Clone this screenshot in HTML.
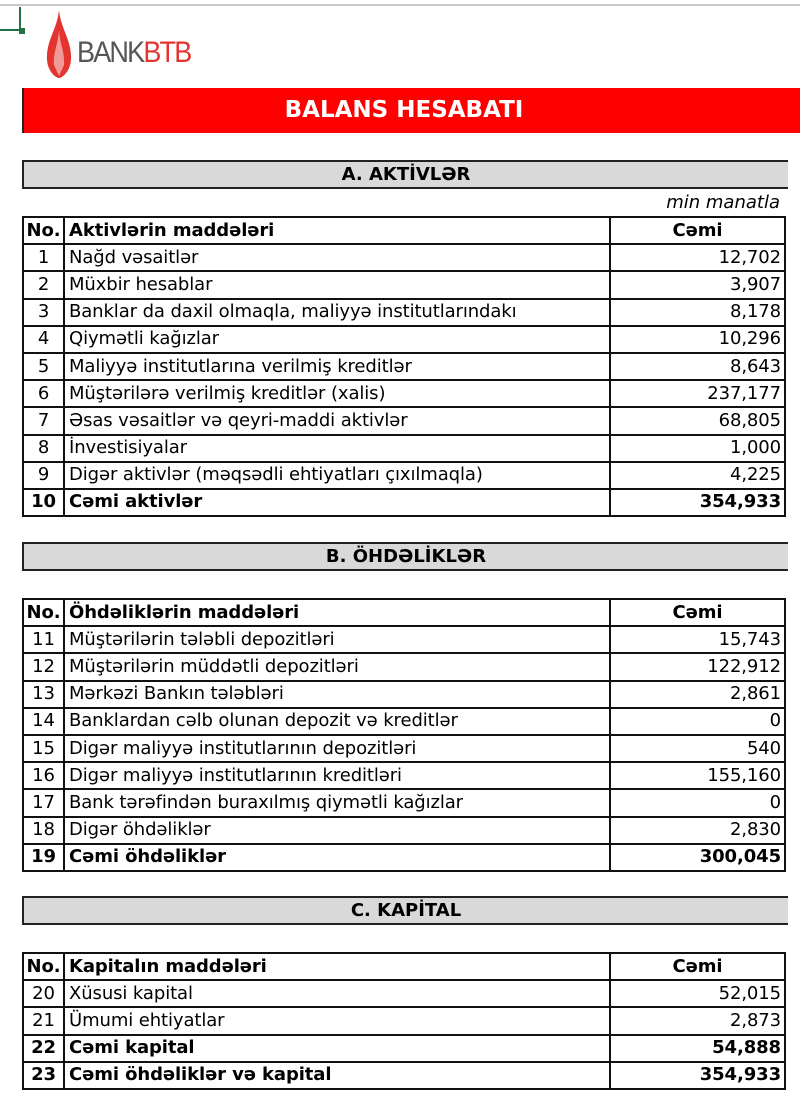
<!DOCTYPE html>
<html><head><meta charset="utf-8">
<style>
body{margin:0;width:800px;height:1106px;background:#fff;position:relative;overflow:hidden;font-family:"DejaVu Sans","Liberation Sans",sans-serif;}
.abs{position:absolute}
table{position:absolute;left:22px;width:764px;border-collapse:collapse;font-size:18px;letter-spacing:-0.1px;table-layout:fixed}
tr{height:27.2px}
td{border:2px solid #111;padding:0 4px;line-height:24px;white-space:nowrap;overflow:hidden}
td.n{text-align:center;padding:0}
td.v{text-align:right;padding-right:3px}
tr.b td{font-weight:bold}
.gray{position:absolute;left:22px;width:764px;height:25px;background:#d9d9d9;border-top:2px solid #222;border-bottom:2px solid #222;border-left:2px solid #222;text-align:center;font-weight:bold;font-size:18px;line-height:25px}
</style></head><body>
<div class="abs" style="left:0;top:4px;width:800px;height:2px;background:#c8c8c8"></div>
<div class="abs" style="left:0;top:7px;width:21px;height:24px;border-right:2px solid #217346;border-bottom:2px solid #217346;box-sizing:border-box"></div>
<div class="abs" style="left:19px;top:28px;width:6px;height:6px;background:#217346"></div>
<svg class="abs" style="left:44px;top:10px" width="30" height="68" viewBox="0 0 30 68">
<path d="M15 0 C13 20 2 30 3 50 C4 62 12 68 15 68 C18 68 26 62 27 50 C28 30 17 20 15 0Z" fill="#e3342f"/>
<path d="M15 20 C14 35 9 42 10 55 L15 66 L20 55 C21 42 16 35 15 20Z" fill="#fff" opacity=".5"/>
</svg>
<div class="abs" style="left:77px;top:36px;font-family:'Liberation Sans',sans-serif;font-size:30px;letter-spacing:-2px;color:#555;transform:scaleX(0.9);transform-origin:left">BANK<span style="color:#e3342f">BTB</span></div>
<div class="abs" style="left:22px;top:88px;width:778px;height:45px;background:#ff0000;border-left:2px solid #222;color:#fff;font-weight:bold;font-size:23px;line-height:45px;text-align:center;box-sizing:border-box;padding-right:16px">BALANS HESABATI</div>

<div class="gray" style="top:160px">A. AKTİVLƏR</div>
<div class="abs" style="right:20px;top:192px;font-style:italic;font-size:18px">min manatla</div>
<table style="top:216px">
<colgroup><col style="width:41px"><col style="width:546px"><col></colgroup>
<tr class="b"><td class="n">No.</td><td>Aktivlərin maddələri</td><td style="text-align:center">Cəmi</td></tr>
<tr><td class="n">1</td><td>Nağd vəsaitlər</td><td class="v">12,702</td></tr>
<tr><td class="n">2</td><td>Müxbir hesablar</td><td class="v">3,907</td></tr>
<tr><td class="n">3</td><td>Banklar da daxil olmaqla, maliyyə institutlarındakı</td><td class="v">8,178</td></tr>
<tr><td class="n">4</td><td>Qiymətli kağızlar</td><td class="v">10,296</td></tr>
<tr><td class="n">5</td><td>Maliyyə institutlarına verilmiş kreditlər</td><td class="v">8,643</td></tr>
<tr><td class="n">6</td><td>Müştərilərə verilmiş kreditlər (xalis)</td><td class="v">237,177</td></tr>
<tr><td class="n">7</td><td>Əsas vəsaitlər və qeyri-maddi aktivlər</td><td class="v">68,805</td></tr>
<tr><td class="n">8</td><td>İnvestisiyalar</td><td class="v">1,000</td></tr>
<tr><td class="n">9</td><td>Digər aktivlər (məqsədli ehtiyatları çıxılmaqla)</td><td class="v">4,225</td></tr>
<tr class="b"><td class="n">10</td><td>Cəmi aktivlər</td><td class="v">354,933</td></tr>
</table>

<div class="gray" style="top:542px">B. ÖHDƏLİKLƏR</div>
<table style="top:598px">
<colgroup><col style="width:41px"><col style="width:546px"><col></colgroup>
<tr class="b"><td class="n">No.</td><td>Öhdəliklərin maddələri</td><td style="text-align:center">Cəmi</td></tr>
<tr><td class="n">11</td><td>Müştərilərin tələbli depozitləri</td><td class="v">15,743</td></tr>
<tr><td class="n">12</td><td>Müştərilərin müddətli depozitləri</td><td class="v">122,912</td></tr>
<tr><td class="n">13</td><td>Mərkəzi Bankın tələbləri</td><td class="v">2,861</td></tr>
<tr><td class="n">14</td><td>Banklardan cəlb olunan depozit və kreditlər</td><td class="v">0</td></tr>
<tr><td class="n">15</td><td>Digər maliyyə institutlarının depozitləri</td><td class="v">540</td></tr>
<tr><td class="n">16</td><td>Digər maliyyə institutlarının kreditləri</td><td class="v">155,160</td></tr>
<tr><td class="n">17</td><td>Bank tərəfindən buraxılmış qiymətli kağızlar</td><td class="v">0</td></tr>
<tr><td class="n">18</td><td>Digər öhdəliklər</td><td class="v">2,830</td></tr>
<tr class="b"><td class="n">19</td><td>Cəmi öhdəliklər</td><td class="v">300,045</td></tr>
</table>

<div class="gray" style="top:896px">C. KAPİTAL</div>
<table style="top:952px">
<colgroup><col style="width:41px"><col style="width:546px"><col></colgroup>
<tr class="b"><td class="n">No.</td><td>Kapitalın maddələri</td><td style="text-align:center">Cəmi</td></tr>
<tr><td class="n">20</td><td>Xüsusi kapital</td><td class="v">52,015</td></tr>
<tr><td class="n">21</td><td>Ümumi ehtiyatlar</td><td class="v">2,873</td></tr>
<tr class="b"><td class="n">22</td><td>Cəmi kapital</td><td class="v">54,888</td></tr>
<tr class="b"><td class="n">23</td><td>Cəmi öhdəliklər və kapital</td><td class="v">354,933</td></tr>
</table>
</body></html>
